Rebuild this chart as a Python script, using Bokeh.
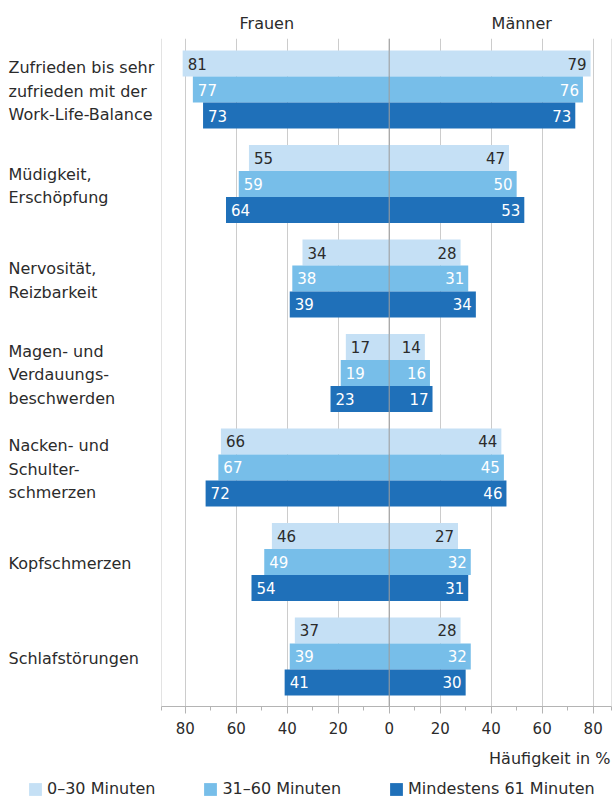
from bokeh.plotting import figure
from bokeh.models import (Range1d, ColumnDataSource, FixedTicker, Span, Legend,
                          LegendItem, LinearAxis)
from bokeh.layouts import row, column
from bokeh.embed import file_html
from bokeh.resources import INLINE
from bokeh.core.properties import value

# ---------------- data ----------------
categories = [
    "Zufrieden bis sehr\nzufrieden mit der\nWork-Life-Balance",
    "Müdigkeit,\nErschöpfung",
    "Nervosität,\nReizbarkeit",
    "Magen- und\nVerdauungs-\nbeschwerden",
    "Nacken- und\nSchulter-\nschmerzen",
    "Kopfschmerzen",
    "Schlafstörungen",
]
series_names = ["0–30 Minuten", "31–60 Minuten", "Mindestens 61 Minuten"]
frauen_0_30 = [81, 55, 34, 17, 66, 46, 37]
frauen_31_60 = [77, 59, 38, 19, 67, 49, 39]
frauen_61 = [73, 64, 39, 23, 72, 54, 41]
maenner_0_30 = [79, 47, 28, 14, 44, 27, 28]
maenner_31_60 = [76, 50, 31, 16, 45, 32, 32]
maenner_61 = [73, 53, 34, 17, 46, 31, 30]
tick_values = [-80, -60, -40, -20, 0, 20, 40, 60, 80]
minor_tick_values = [-70, -50, -30, -10, 10, 30, 50, 70]
tick_labels = {v: str(abs(v)) for v in tick_values}
group_names = ["Frauen", "Männer"]
axis_title = "Häufigkeit in %"

# ---------------- style / layout ----------------
FONT = "DejaVu Sans"
FS = "16px"
NFS = "15px"
TXT = "#2b2b2b"
GRID = "#cccccc"
AXC = "#b4b4b4"
colors = ["#c5e0f5", "#77bee9", "#1f70b9"]
label_colors = [TXT, "white", "white"]

TOTAL_W, TOTAL_H = 614, 799
LEFT_W = 160           # column with category labels
TOP_H = 744            # height of chart row
FT, FB = 38, 706       # frame top / bottom
X0, X1 = -89.3, 87.2
Y_TOP, Y_BOT = -0.54, 6.53
header_pos = [-48, 52]

y_range = Range1d(Y_BOT, Y_TOP)

# ---- main chart ----
p = figure(width=TOTAL_W - LEFT_W, height=TOP_H, x_range=Range1d(X0, X1), y_range=y_range,
           toolbar_location=None, output_backend="svg", y_axis_location=None,
           min_border_left=1, min_border_right=3, min_border_top=FT,
           min_border_bottom=TOP_H - FB)
p.outline_line_color = None
p.ygrid.visible = False
p.xgrid.grid_line_color = GRID
p.xgrid.ticker = FixedTicker(ticks=tick_values)

ax = p.xaxis[0]
ax.ticker = FixedTicker(ticks=tick_values, minor_ticks=minor_tick_values + [X0, X1])
ax.major_label_overrides = tick_labels
ax.axis_line_color = AXC
ax.major_tick_line_color = AXC
ax.minor_tick_line_color = AXC
ax.major_tick_in = 0
ax.major_tick_out = 7
ax.minor_tick_in = 0
ax.minor_tick_out = 4
ax.major_label_text_font = FONT
ax.major_label_text_font_size = NFS
ax.major_label_text_color = TXT
ax.major_label_standoff = 8

# group headers as an axis above
head_axis = LinearAxis(ticker=FixedTicker(ticks=header_pos, minor_ticks=[]),
                       major_label_overrides={header_pos[0]: group_names[0],
                                              header_pos[1]: group_names[1]},
                       axis_line_color=None, major_tick_line_color=None,
                       minor_tick_line_color=None, major_label_standoff=0,
                       major_label_text_font=FONT, major_label_text_font_size=FS,
                       major_label_text_color=TXT)
p.add_layout(head_axis, "above")

# frame side lines
for loc in (X0, X1):
    p.add_layout(Span(location=loc, dimension="height", line_color="#c8c8c8", line_width=1))

bar_h = 0.275
offsets = [-bar_h, 0.0, bar_h]
frauen = [frauen_0_30, frauen_31_60, frauen_61]
maenner = [maenner_0_30, maenner_31_60, maenner_61]
for k in range(3):
    ys = [i + offsets[k] for i in range(len(categories))]
    sf = ColumnDataSource(dict(y=ys, left=[-v for v in frauen[k]], right=[0] * len(ys),
                               val=[str(v) for v in frauen[k]]))
    sm = ColumnDataSource(dict(y=ys, left=[0] * len(ys), right=maenner[k],
                               val=[str(v) for v in maenner[k]]))
    p.hbar(y="y", left="left", right="right", height=bar_h, fill_color=colors[k],
           line_color=None, source=sf)
    p.hbar(y="y", left="left", right="right", height=bar_h, fill_color=colors[k],
           line_color=None, source=sm)
    p.text(x="left", y="y", text="val", source=sf, x_offset=5, text_align="left",
           text_baseline="middle", text_font=value(FONT), text_font_size=NFS,
           text_color=label_colors[k])
    p.text(x="right", y="y", text="val", source=sm, x_offset=-4, text_align="right",
           text_baseline="middle", text_font=value(FONT), text_font_size=NFS,
           text_color=label_colors[k])

p.add_layout(Span(location=0, dimension="height", line_color="#9a9a9a", line_width=1))

# ---- left column: category labels ----
pl = figure(width=LEFT_W, height=TOP_H, x_range=Range1d(0, LEFT_W), y_range=y_range,
            toolbar_location=None, output_backend="svg", x_axis_location=None,
            y_axis_location=None, min_border_left=0, min_border_right=0,
            min_border_top=FT, min_border_bottom=TOP_H - FB)
pl.outline_line_color = None
pl.grid.visible = False
cat_src = ColumnDataSource(dict(x=[8] * len(categories),
                                y=[i + 0.02 for i in range(len(categories))],
                                text=categories))
pl.text(x="x", y="y", text="text", source=cat_src, text_align="left",
        text_baseline="middle", text_font=value(FONT), text_font_size=FS,
        text_color=TXT, text_line_height=1.24)

# ---- bottom strip: axis title + legend ----
LEG_H = TOTAL_H - TOP_H
pg = figure(width=TOTAL_W, height=LEG_H, x_range=Range1d(0, TOTAL_W),
            y_range=Range1d(0, LEG_H), toolbar_location=None, output_backend="svg",
            x_axis_location=None, y_axis_location=None, min_border=0)
pg.outline_line_color = None
pg.grid.visible = False
pg.text(x=[610], y=[LEG_H - 14], text=[axis_title], text_align="right",
        text_baseline="middle", text_font=value(FONT), text_font_size=FS, text_color=TXT)
items = []
for k in range(3):
    r = pg.hbar(y=[-50], left=[0], right=[0], height=0, fill_color=colors[k],
                line_color=None)
    items.append(LegendItem(label=series_names[k], renderers=[r]))
lg = Legend(items=items, location=(27, 1), orientation="horizontal", padding=0, margin=0,
            spacing=47, border_line_color=None, background_fill_alpha=0, glyph_width=16,
            glyph_height=16, label_height=16, label_standoff=4, label_text_font=FONT,
            label_text_font_size=FS, label_text_color=TXT)
pg.add_layout(lg)

layout = column(row(pl, p), pg)
open("out.html", "w").write(file_html(layout, INLINE))
